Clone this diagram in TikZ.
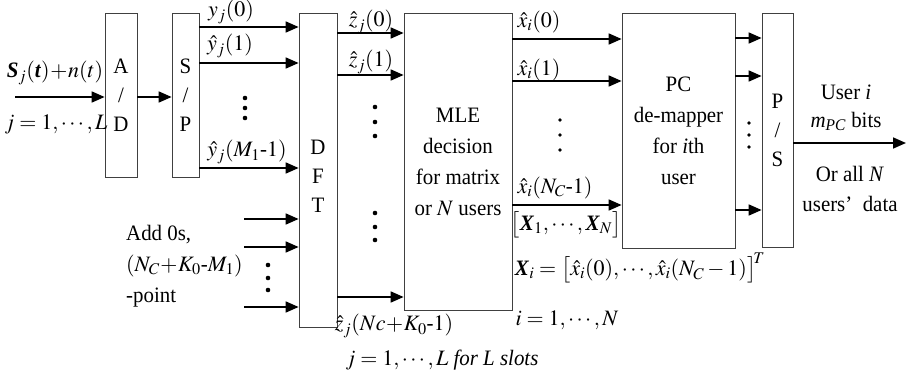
\documentclass[tikz,border=0pt]{standalone}
\usepackage{mathptmx}
\usepackage{fontspec}
\setmainfont{Liberation Serif}[FakeStretch=0.95]
\usetikzlibrary{arrows.meta,positioning}
\newcommand{\bvec}[1]{\textbf{\textit{#1}}}
\newcommand{\hy}{\mbox{-}}

\tikzset{
  blk/.style={draw=black!75, line width=0.8pt, inner sep=0pt, align=center,
    font=\fontsize{22}{29}\selectfont},
  sig/.style={line width=1.7pt, -{Triangle[length=13pt,width=11pt]}},
  lbl/.style={inner sep=0pt, font=\fontsize{22}{29}\selectfont},
}

\begin{document}
\begin{tikzpicture}[x=1pt,y=-1pt]
   \useasboundingbox (0,0) rectangle (908,379);
   % blocks
   \node[blk, minimum width=32pt, minimum height=164pt] (ad) at (121,95) {A\\/\\D};
   \node[blk, minimum width=27pt, minimum height=164pt] (sp) at (185.5,95) {S\\/\\P};
   \node[blk, minimum width=38pt, minimum height=314pt, font=\fontsize{22}{29}\selectfont] (dft) at (318,170) {};
   \node[lbl, align=center] (dfttxt) at (318,176) {D\\F\\T};
   \node[blk, minimum width=108pt, minimum height=297pt, font=\fontsize{22}{31}\selectfont] (mle) at (458,161.5)
      {MLE\\decision\\for matrix\\or $N$ users};
   \node[blk, minimum width=113pt, minimum height=235pt, font=\fontsize{22}{31}\selectfont] (pc) at (678.5,130.5)
      {PC\\de-mapper\\for \textit{i}th\\user};
   \node[blk, minimum width=31pt, minimum height=234pt] (ps) at (777.5,130) {P\\/\\S};
   % free ends
   \coordinate (in) at (15,97);
   \coordinate (out) at (906,143);
   % input
   \draw[sig] (in) -- (in -| ad.west);
   \draw[sig] (ad.east |- in) -- (sp.west |- in);
   \node[lbl] (sig) at (55,73) {$\bvec{S}_j(\bvec{t})\!+\!n(t)$};
   \node[lbl] (slot) at (56,124) {$j=1,\cdots,L$};
   % S/P to DFT
   \foreach \y in {27,63,168}
      \draw[sig] (sp.east |- 0,\y) -- (dft.west |- 0,\y);
   \node[lbl] (y0) at (231,12) {$y_j(0)$};
   \node[lbl] (y1) at (230,46) {$\hat{y}_j(1)$};
   \node[lbl] (ym) at (247,152) {$\hat{y}_j(M_1\hy1)$};
   \foreach \y in {98,108,118}
      \fill (245,\y) circle (2.3pt);
   % zero padding
   \foreach \y [count=\i] in {219,247,307} {
      \coordinate (pad\i) at (244,\y);
      \draw[sig] (pad\i) -- (dft.west |- pad\i);
   }
   \foreach \y in {265,278,290}
      \fill (268,\y) circle (2.3pt);
   \node[lbl, align=left, anchor=west, font=\fontsize{22}{31}\selectfont] (zeros) at (126,266)
      {Add 0s,\\$(N_C\!+\!K_0\hy M_1)$\\-point};
   % DFT to MLE
   \foreach \y in {33,75,297}
      \draw[sig] (dft.east |- 0,\y) -- (mle.west |- 0,\y);
   \node[lbl] (z0) at (371,22) {$\hat{z}_j(0)$};
   \node[lbl] (z1) at (371,62) {$\hat{z}_j(1)$};
   \node[lbl] (zn) at (394,326) {$\hat{z}_j(Nc\!+\!K_0\hy1)$};
   \node[lbl] (slots) at (442,360) {$j=1,\cdots,L$ \textit{for L slots}};
   \foreach \y in {107,122,136,213,227,240}
      \fill (375,\y) circle (2.3pt);
   % MLE to PC
   \foreach \y in {39,81,205}
      \draw[sig] (mle.east |- 0,\y) -- (pc.west |- 0,\y);
   \node[lbl] (x0) at (539,22) {$\hat{x}_i(0)$};
   \node[lbl] (x1) at (539,70) {$\hat{x}_i(1)$};
   \node[lbl] (xn) at (555,188) {$\hat{x}_i(N_C\hy1)$};
   \node[lbl] (xall) at (566,225) {$\big[\bvec{X}_1,\cdots,\bvec{X}_N\big]$};
   \node[lbl] (xi) at (640,268) {$\bvec{X}_i=\big[\hat{x}_i(0),\cdots,\hat{x}_i(N_C-1)\big]^{\mkern-3mu T}$};
   \node[lbl] (users) at (567,320) {$i=1,\cdots,N$};
   \foreach \y in {120,135,150}
      \fill (560,\y) circle (1.8pt);
   % PC to P/S
   \foreach \y in {38,76,210}
      \draw[sig] (pc.east |- 0,\y) -- (ps.west |- 0,\y);
   \foreach \y in {123,135,147}
      \fill (749,\y) circle (1.8pt);
   % output
   \draw[sig] (ps.east |- out) -- (out);
   \node[lbl, align=center, font=\fontsize{22}{28}\selectfont] (bits) at (846,108)
      {User \textit{i}\\\textit{m}\textsubscript{\textit{PC}} bits};
   \node[lbl, align=center, font=\fontsize{22}{30}\selectfont] (data) at (850,189)
      {Or all \textit{N}\\users’\ \ data};
\end{tikzpicture}
\end{document}
